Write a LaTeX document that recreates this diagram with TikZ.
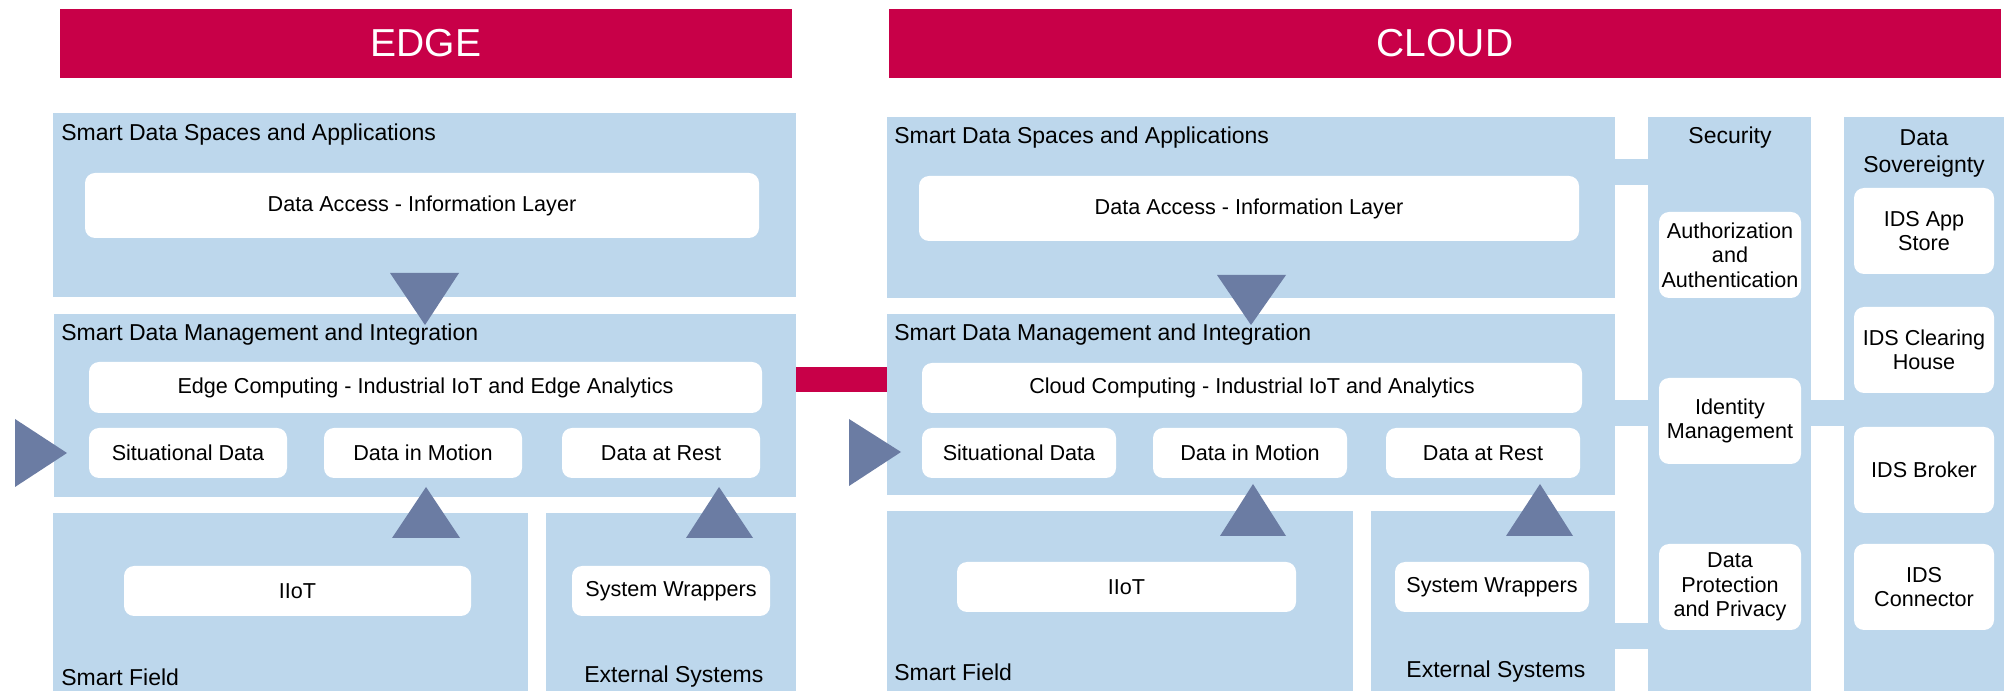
\documentclass[tikz,border=0pt]{standalone}
\usepackage{fontspec}
\setmainfont{Liberation Sans}
\usepackage{xcolor}
\usepackage{tikz}
\usetikzlibrary{positioning,fit}

\definecolor{barred}{RGB}{200,0,72}
\definecolor{panelblue}{RGB}{189,215,236}
\definecolor{arrowblue}{RGB}{107,124,163}

\begin{document}
\begin{tikzpicture}
[x=0.5pt, y=-0.5pt, font=\fontsize{10.8}{12.2}\selectfont,
    every label/.style={align=center, inner sep=0pt},
    header/.style={fill=barred, inner sep=0pt,
    label={[text=white, font=\fontsize{19.5}{22}\selectfont]center:#1}},
    panel/.style={fill=panelblue, inner sep=0pt},
    item/.style={fill=white, rounded corners=5pt, inner sep=0pt,
    label={center:#1}},
    caption/.style={inner sep=0pt, align=center, font=\fontsize{11.5}{13.5}\selectfont},
    link/.style={draw=panelblue, line width=13pt},
    tri/.style={fill=arrowblue}
    ]

    \useasboundingbox (0,0) rectangle (2009,694);

    % headers
    \node[header=EDGE, fit={(60,9) (792,78)}] (edge) {};
    \node[header=CLOUD, fit={(889,9) (2001,78)}] (cloud) {};

    % edge panels
    \node[panel, fit={(53,113) (796,297)}] (espaces) {};
    \node[panel, fit={(54,314) (796,497)}] (emanage) {};
    \node[panel, fit={(53,513) (528,691)}] (efield) {};
    \node[panel, fit={(546,513) (796,691)}] (eext) {};

    % cloud panels
    \node[panel, fit={(887,117) (1615,298)}] (cspaces) {};
    \node[panel, fit={(887,314) (1615,495)}] (cmanage) {};
    \node[panel, fit={(887,511) (1353,691)}] (cfield) {};
    \node[panel, fit={(1371,511) (1615,691)}] (cext) {};
    \node[panel, fit={(1648,117) (1811,691)}] (security) {};
    \node[panel, fit={(1844,117) (2004,691)}] (sovereign) {};

    % links
    \draw[draw=barred, line width=12.5pt] (emanage.east |- 0,379.5) -- (cmanage.west |- 0,379.5);
    \draw[link] (cspaces.east |- 0,172) -- (security.west |- 0,172);
    \draw[link] (cmanage.east |- 0,413) -- (security.west |- 0,413);
    \draw[link] (cext.east |- 0,636.5) -- (security.west |- 0,636.5);
    \draw[link] (security.east |- 0,413.5) -- (sovereign.west |- 0,413.5);

    % panel captions
    \node[caption, anchor=west] (espacescap) at (61,135) {Smart Data Spaces and Applications};
    \node[caption, anchor=west] (emanagecap) at (61,335) {Smart Data Management and Integration};
    \node[caption, anchor=west] (efieldcap) at (61,677) {Smart Field};
    \node[caption, anchor=west] (eextcap) at (584,677) {External Systems};
    \node[caption, anchor=west] (cspacescap) at (894,138) {Smart Data Spaces and Applications};
    \node[caption, anchor=west] (cmanagecap) at (894,335) {Smart Data Management and Integration};
    \node[caption, anchor=west] (cfieldcap) at (894,672) {Smart Field};
    \node[caption, anchor=west] (cextcap) at (1406,672) {External Systems};
    \node[caption] (securitycap) at (1730,138) {Security};
    \node[caption] (sovereigncap) at (1924,153) {Data\\Sovereignty};

    % edge items
    \node[item={Data Access - Information Layer}, fit={(85,173) (759,238)}] (eaccess) {};
    \node[item={Edge Computing - Industrial IoT and Edge Analytics}, fit={(89,362) (762,413)}] (ecomp) {};
    \node[item={Situational Data}, fit={(89,428) (287,478)}] (esit) {};
    \node[item={Data in Motion}, fit={(324,428) (522,478)}] (emotion) {};
    \node[item={Data at Rest}, fit={(562,428) (760,478)}] (erest) {};
    \node[item={IIoT}, fit={(124,566) (471,616)}] (eiiot) {};
    \node[item={System Wrappers}, fit={(572,566) (770,616)}] (ewrap) {};

    % cloud items
    \node[item={Data Access - Information Layer}, fit={(919,176) (1579,241)}] (caccess) {};
    \node[item={Cloud Computing - Industrial IoT and Analytics}, fit={(922,363) (1582,413)}] (ccomp) {};
    \node[item={Situational Data}, fit={(922,428) (1116,478)}] (csit) {};
    \node[item={Data in Motion}, fit={(1153,428) (1347,478)}] (cmotion) {};
    \node[item={Data at Rest}, fit={(1386,428) (1580,478)}] (crest) {};
    \node[item={IIoT}, fit={(957,562) (1296,612)}] (ciiot) {};
    \node[item={System Wrappers}, fit={(1395,562) (1589,612)}] (cwrap) {};

    % security and sovereignty items
    \node[item={Authorization\\and\\Authentication}, fit={(1659,212) (1801,298)}] (auth) {};
    \node[item={Identity\\Management}, fit={(1659,378) (1801,464)}] (ident) {};
    \node[item={Data\\Protection\\and Privacy}, fit={(1659,544) (1801,630)}] (privacy) {};
    \node[item={IDS App\\Store}, fit={(1854,188) (1994,274)}] (store) {};
    \node[item={IDS Clearing\\House}, fit={(1854,307) (1994,393)}] (clearing) {};
    \node[item={IDS Broker}, fit={(1854,427) (1994,513)}] (broker) {};
    \node[item={IDS\\Connector}, fit={(1854,544) (1994,630)}] (connector) {};

    % flow triangles
    \fill[tri] (390,273) -- (459,273) -- (425,325) -- cycle;
    \fill[tri] (392,538) -- (460,538) -- (426,487) -- cycle;
    \fill[tri] (686,538) -- (753,538) -- (719,487) -- cycle;
    \fill[tri] (15,419) -- (15,487) -- (67,453) -- cycle;
    \fill[tri] (1217,275) -- (1286,275) -- (1251,325) -- cycle;
    \fill[tri] (1220,536) -- (1286,536) -- (1253,484) -- cycle;
    \fill[tri] (1506,536) -- (1573,536) -- (1540,484) -- cycle;
    \fill[tri] (849,419) -- (849,486) -- (901,452) -- cycle;
\end{tikzpicture}
\end{document}
